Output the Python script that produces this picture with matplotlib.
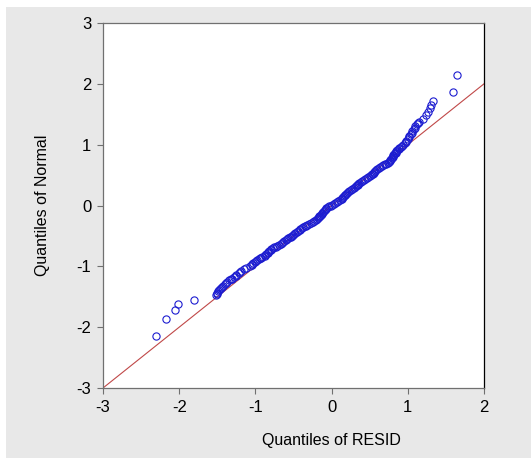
import matplotlib
matplotlib.use('Agg')
import matplotlib.pyplot as plt
from matplotlib.patches import Rectangle

plt.rcParams['font.family'] = ['Liberation Sans', 'DejaVu Sans']
plt.rcParams['axes.unicode_minus'] = False

# quantiles (x = RESID, y = Normal)
resid_q = [-2.30, -2.17, -2.06, -2.02, -1.81,
           -1.52, -1.51, -1.49, -1.47, -1.45, -1.43, -1.40, -1.37, -1.34, -1.31,
           -1.28, -1.25, -1.22, -1.19, -1.15, -1.12,
           -1.07, -1.04, -1.01, -0.98, -0.94, -0.91, -0.87, -0.84, -0.82, -0.79,
           -0.75, -0.71, -0.67, -0.64, -0.60, -0.57, -0.53, -0.51, -0.48, -0.44,
           -0.41, -0.37, -0.34, -0.30, -0.25, -0.21, -0.18, -0.16, -0.14, -0.12,
           -0.10, -0.08, -0.05, -0.01, 0.03, 0.07, 0.11, 0.14, 0.16, 0.18,
           0.20, 0.23, 0.27, 0.31, 0.33, 0.35, 0.38, 0.42, 0.46, 0.50,
           0.53, 0.55, 0.57, 0.60, 0.64, 0.68, 0.72, 0.75, 0.77, 0.79,
           0.81, 0.82, 0.84, 0.85, 0.88, 0.91, 0.94,
           0.96, 0.98, 1.00, 1.02, 1.04, 1.05, 1.08, 1.10, 1.12, 1.15,
           1.20, 1.24, 1.27, 1.29, 1.31, 1.33, 1.59, 1.65,
           # dense band, second row of circles
           -1.50, -1.48, -1.44, -1.38, -1.32, -1.26, -1.20,
           -1.05, -1.03, -0.99, -0.95, -0.93, -0.88, -0.86, -0.83, -0.80, -0.77,
           -0.73, -0.69, -0.65, -0.62, -0.58, -0.55, -0.52, -0.49, -0.46, -0.42,
           -0.39, -0.35, -0.32, -0.27, -0.23, -0.19, -0.17, -0.15, -0.13, -0.11,
           -0.09, -0.07, -0.03, 0.01, 0.05, 0.09, 0.13, 0.15, 0.17, 0.19,
           0.21, 0.25, 0.29, 0.32, 0.34, 0.36, 0.40, 0.44, 0.48, 0.52,
           0.54, 0.56, 0.58, 0.62, 0.66, 0.70, 0.74, 0.76, 0.78, 0.80,
           0.81, 0.83, 0.84, 0.86, 0.89, 0.93,
           0.97, 1.01, 1.05, 1.09, 1.13]
normal_q = [-2.14, -1.86, -1.71, -1.62, -1.55,
            -1.47, -1.44, -1.41, -1.38, -1.35, -1.32, -1.29, -1.26, -1.23, -1.20,
            -1.17, -1.14, -1.11, -1.08, -1.05, -1.03,
            -0.99, -0.96, -0.93, -0.90, -0.87, -0.84, -0.81, -0.78, -0.75, -0.72,
            -0.69, -0.66, -0.63, -0.60, -0.57, -0.54, -0.51, -0.48, -0.45, -0.42,
            -0.39, -0.36, -0.33, -0.30, -0.27, -0.24, -0.21, -0.18, -0.15, -0.12,
            -0.09, -0.06, -0.03, 0.00, 0.03, 0.06, 0.09, 0.12, 0.15, 0.18,
            0.21, 0.24, 0.27, 0.30, 0.33, 0.36, 0.39, 0.42, 0.45, 0.48,
            0.51, 0.54, 0.57, 0.60, 0.63, 0.66, 0.69, 0.72, 0.75, 0.78,
            0.81, 0.84, 0.87, 0.90, 0.93, 0.96, 0.99,
            1.02, 1.06, 1.10, 1.14, 1.18, 1.22, 1.26, 1.30, 1.34, 1.38,
            1.43, 1.48, 1.53, 1.60, 1.66, 1.72, 1.86, 2.14,
            -1.455, -1.395, -1.335, -1.275, -1.215, -1.155, -1.095,
            -0.975, -0.945, -0.915, -0.885, -0.855, -0.825, -0.795, -0.765, -0.735, -0.705,
            -0.675, -0.645, -0.615, -0.585, -0.555, -0.525, -0.495, -0.465, -0.435, -0.405,
            -0.375, -0.345, -0.315, -0.285, -0.255, -0.225, -0.195, -0.165, -0.135, -0.105,
            -0.075, -0.045, -0.015, 0.015, 0.045, 0.075, 0.105, 0.135, 0.165, 0.195,
            0.225, 0.255, 0.285, 0.315, 0.345, 0.375, 0.405, 0.435, 0.465, 0.495,
            0.525, 0.555, 0.585, 0.615, 0.645, 0.675, 0.705, 0.735, 0.765, 0.795,
            0.825, 0.855, 0.885, 0.915, 0.945, 0.975,
            1.04, 1.12, 1.20, 1.28, 1.36]

ref_line = [-3, 2]
xticks = [-3, -2, -1, 0, 1, 2]
yticks = [-3, -2, -1, 0, 1, 2, 3]

fig = plt.figure(figsize=(5.31, 4.58), dpi=100, facecolor='white')
# grey panel behind everything, small white strip left and top
fig.patches.append(Rectangle((6 / 531, 0), 1, 1 - 7 / 458, transform=fig.transFigure,
                             facecolor='#e8e8e8', edgecolor='none', zorder=-10))

ax = fig.add_axes([103 / 531, 1 - 388 / 458, 381 / 531, 365 / 458])
ax.set_facecolor('white')

ax.plot(ref_line, ref_line, color='#c04848', lw=0.8, zorder=2)
ax.plot(resid_q, normal_q, linestyle='none', marker='o', markersize=5.2,
        markerfacecolor='none', markeredgecolor='#1c1cd0', markeredgewidth=0.8, zorder=3)

ax.set_xlim(-3, 2)
ax.set_ylim(-3, 3)
ax.set_xticks(xticks)
ax.set_yticks(yticks)
ax.tick_params(direction='out', length=4.5, width=0.8, color='#707070',
               labelsize=12, pad=4)

for side in ['left', 'bottom', 'top']:
    ax.spines[side].set_color('#707070')
ax.spines['right'].set_color('black')
for s in ax.spines.values():
    s.set_linewidth(0.9)

fig.text(331 / 531, 1 - 441 / 458, 'Quantiles of RESID', ha='center', va='center', fontsize=11.5)
fig.text(43 / 531, 1 - 205 / 458, 'Quantiles of Normal', ha='center', va='center',
         rotation=90, fontsize=11.5)

fig.savefig('out.png', dpi=100, facecolor=fig.get_facecolor())
